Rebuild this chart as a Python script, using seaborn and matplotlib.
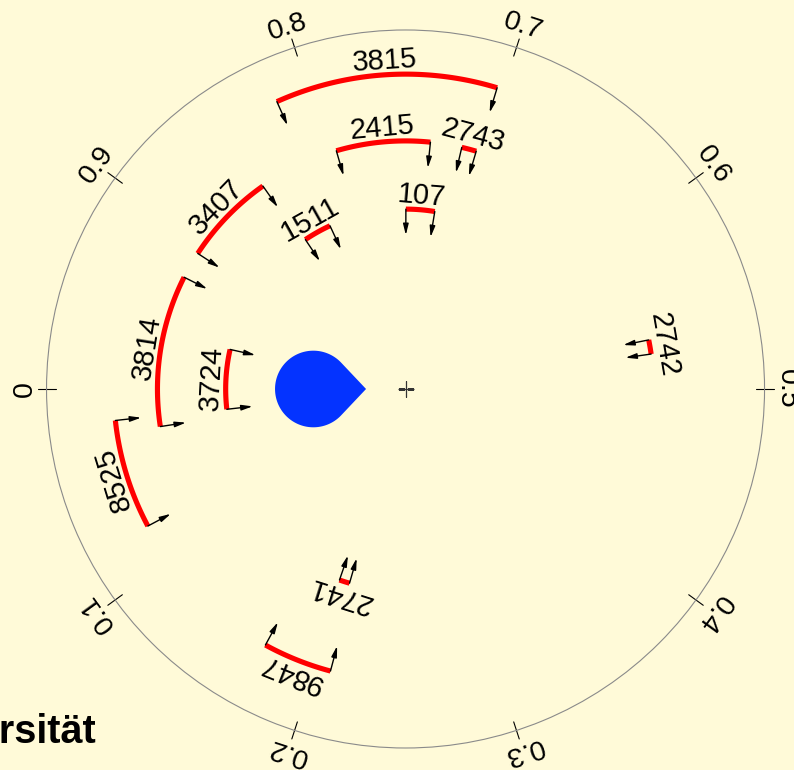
import numpy as np
import pandas as pd
import matplotlib
matplotlib.use("Agg")
import matplotlib.pyplot as plt
import seaborn as sns

# Arcs on the circular 0..1 scale: label, start, end and ring radius (outer circle = 1)
arc_labels = ["3815", "2415", "2743", "107", "3407", "1511",
              "3814", "3724", "8525", "2742", "2741", "9847"]
arc_start = [0.703, 0.734, 0.704, 0.724, 0.8475, 0.819,
             0.9256, 0.9647, 0.0172, 0.5225, 0.197, 0.1703]
arc_end = [0.817, 0.795, 0.7136, 0.7497, 0.908, 0.844,
           1.0242, 1.018, 0.0778, 0.5317, 0.2053, 0.2086]
arc_radius = [0.877, 0.691, 0.691, 0.501, 0.691, 0.501,
              0.691, 0.501, 0.813, 0.691, 0.563, 0.813]

tick_values = [0.0, 0.1, 0.2, 0.3, 0.4, 0.5, 0.6, 0.7, 0.8, 0.9]
tick_labels = ["0", "0.1", "0.2", "0.3", "0.4", "0.5", "0.6", "0.7", "0.8", "0.9"]

# Mean-direction drop: direction, distance of its round part, its radius, tip distance
drop_direction = 0.0
drop_center = 0.2568
drop_radius = 0.1067
drop_tip = 0.110

caption = "Universität"

BG = "#fffad8"
sns.set_theme(style="white", rc={"figure.facecolor": BG, "axes.facecolor": BG})
plt.rcParams["font.family"] = ["Liberation Sans", "DejaVu Sans"]


def to_theta(v):
    return 2 * np.pi * np.asarray(v, dtype=float)


fig = plt.figure(figsize=(7.94, 7.70), dpi=100, facecolor=BG)
ax = fig.add_axes([0.0586, 0.02857, 0.9043, 0.9325], projection="polar")
ax.set_theta_offset(np.pi)
ax.set_theta_direction(1)
ax.set_ylim(0, 1)
ax.set_xticks([])
ax.set_yticks([])
ax.grid(False)
ax.set_facecolor(BG)
ax.spines["polar"].set_color("#8a8a8a")
ax.spines["polar"].set_linewidth(0.8)

# red arcs
rows = []
for lab, s, e, r in zip(arc_labels, arc_start, arc_end, arc_radius):
    vs = np.linspace(s, e, 120)
    rows.append(pd.DataFrame({"theta": to_theta(vs), "r": r, "arc": lab}))
arcs = pd.concat(rows, ignore_index=True)
sns.lineplot(data=arcs, x="theta", y="r", units="arc", estimator=None, sort=False,
             color="#ff0000", lw=3.7, solid_capstyle="butt", legend=False, ax=ax)
ax.set_xlabel("")
ax.set_ylabel("")

# inward arrows at both ends and the labels outside each arc
arrow_len = 0.0724
label_gap = 0.039
for lab, s, e, r in zip(arc_labels, arc_start, arc_end, arc_radius):
    for v in (s, e):
        th = float(to_theta(v))
        ax.annotate("", xy=(th, r - arrow_len), xytext=(th, r),
                    arrowprops=dict(arrowstyle="-|>,head_length=0.65,head_width=0.16",
                                    color="black", lw=1.0, shrinkA=0, shrinkB=0,
                                    mutation_scale=10))
    vm = 0.5 * (s + e)
    ax.text(float(to_theta(vm)), r + label_gap, lab, rotation=90 + 360 * vm,
            rotation_mode="anchor", ha="center", va="center", fontsize=21,
            color="black")

# ticks across the circle and their labels
for v, lab in zip(tick_values, tick_labels):
    th = float(to_theta(v))
    ax.plot([th, th], [0.975, 1.025], color="black", lw=0.8, clip_on=False)
    ax.text(th, 1.061, lab, rotation=90 + 360 * v, rotation_mode="anchor",
            ha="center", va="center", fontsize=20.5, color="black", clip_on=False)

# drop shape pointing toward the centre
d = drop_center - drop_tip
alpha = np.arccos(drop_radius / d)
phi = np.linspace(alpha, 2 * np.pi - alpha, 200)
cx = drop_center - drop_radius * np.cos(phi)
cy = drop_radius * np.sin(phi)
seg_in = np.linspace(0, 1, 40)
x1 = drop_tip + (cx[0] - drop_tip) * seg_in
y1 = cy[0] * seg_in
x2 = cx[-1] + (drop_tip - cx[-1]) * seg_in
y2 = cy[-1] * (1 - seg_in)
px = np.concatenate([x1, cx, x2])
py = np.concatenate([y1, cy, y2])
ax.fill(float(to_theta(drop_direction)) + np.arctan2(py, px), np.hypot(px, py),
        color="#0433ff", lw=0)

# centre mark
ax.plot([0], [0], marker="+", ms=12, mew=0.9, color="#333333", ls="none")

fig.text(96 / 794, 27 / 770, caption, ha="right", va="baseline",
         fontsize=28.5, fontweight="bold", color="black")

fig.savefig("out.png", dpi=100, facecolor=BG)
